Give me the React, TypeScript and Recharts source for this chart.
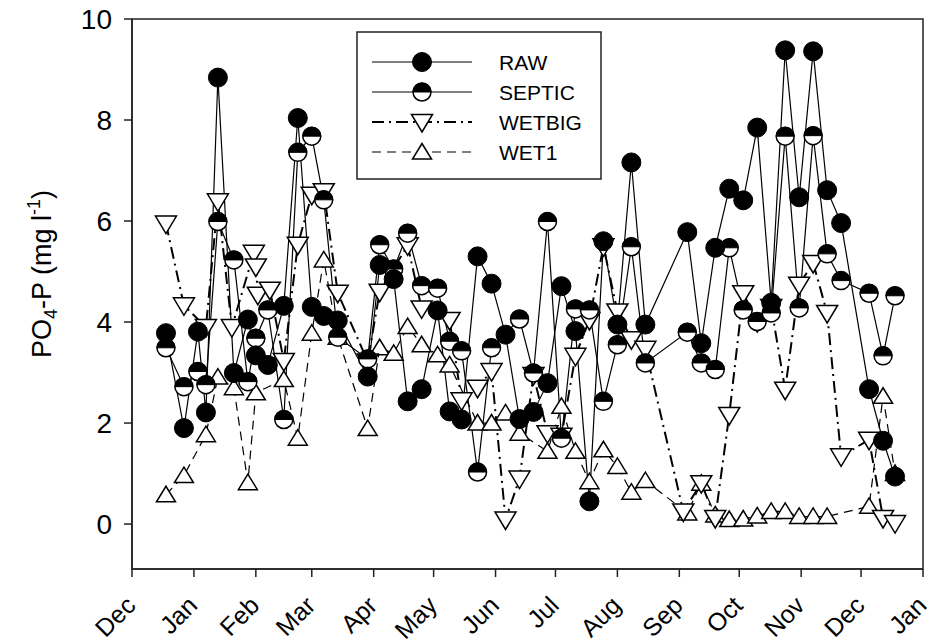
import { LineChart, Line, XAxis, YAxis, ReferenceArea } from 'recharts'

// sampling day = days since 1 December of the first year
const rawDays = [17, 26, 33, 37, 43, 51, 58, 62, 68, 76, 83, 90, 96, 103, 118, 124, 131, 138, 145, 153, 159, 165, 173, 180, 187, 194, 201, 208, 215, 222, 229, 236, 243, 250, 257, 278, 285, 292, 299, 306, 313, 320, 327, 334, 341, 348, 355, 369, 376, 382]
const rawValues = [3.78, 1.9, 3.81, 2.21, 8.84, 2.99, 4.05, 3.34, 3.15, 4.32, 8.04, 4.3, 4.12, 4.03, 2.92, 5.13, 4.85, 2.43, 2.67, 4.23, 2.23, 2.07, 5.3, 4.76, 3.75, 2.08, 2.22, 2.79, 4.71, 3.82, 0.45, 5.6, 3.95, 7.16, 3.95, 5.78, 3.58, 5.47, 6.64, 6.41, 7.85, 4.38, 9.38, 6.47, 9.36, 6.61, 5.96, 2.67, 1.65, 0.94]

const septicDays = [17, 26, 33, 37, 43, 51, 58, 62, 68, 76, 83, 90, 96, 103, 118, 124, 131, 138, 145, 153, 159, 165, 173, 180, 194, 201, 208, 215, 222, 229, 236, 243, 250, 257, 278, 285, 292, 299, 306, 313, 320, 327, 334, 341, 348, 355, 369, 376, 382]
const septicValues = [3.49, 2.72, 3.02, 2.76, 5.99, 5.23, 2.82, 3.68, 4.24, 2.07, 7.36, 7.68, 6.42, 3.7, 3.27, 5.53, 5.05, 5.76, 4.72, 4.67, 3.62, 3.43, 1.03, 3.49, 4.06, 2.99, 5.99, 1.7, 4.26, 4.24, 2.43, 3.55, 5.49, 3.19, 3.8, 3.19, 3.06, 5.47, 4.24, 4.01, 4.18, 7.68, 4.28, 7.69, 5.35, 4.82, 4.57, 3.33, 4.52]

const wetbigDays = [17, 26, 37, 43, 50, 61, 62, 63, 69, 76, 83, 90, 96, 103, 118, 124, 138, 145, 159, 165, 173, 180, 187, 194, 201, 208, 215, 222, 229, 236, 243, 250, 257, 276, 285, 292, 299, 306, 313, 320, 327, 334, 341, 348, 355, 369, 376, 382]
const wetbigValues = [5.95, 4.33, 3.9, 6.39, 3.9, 5.37, 5.1, 4.54, 4.64, 3.23, 5.53, 6.52, 6.59, 4.58, 3.22, 4.6, 5.52, 4.27, 4.04, 2.45, 2.7, 3.03, 0.09, 0.9, 2.95, 1.8, 1.75, 3.33, 4.04, 5.5, 4.21, 3.66, 3.47, 0.25, 0.81, 0.12, 2.16, 4.57, 4.0, 4.3, 2.66, 4.74, 5.17, 4.18, 1.34, 1.67, 0.12, 0.02]

const wet1Days = [17, 26, 37, 43, 51, 58, 62, 76, 83, 90, 96, 103, 118, 124, 131, 138, 145, 153, 159, 173, 180, 187, 194, 208, 215, 222, 229, 236, 243, 250, 257, 278, 285, 292, 299, 306, 313, 320, 327, 334, 341, 348, 369, 376, 382]
const wet1Values = [0.58, 0.96, 1.77, 2.91, 2.7, 0.82, 2.6, 2.86, 1.7, 3.78, 5.23, 3.7, 1.89, 3.49, 3.38, 3.91, 3.55, 3.35, 3.15, 2.0, 2.0, 2.2, 1.8, 1.44, 2.33, 1.44, 0.84, 1.47, 1.14, 0.63, 0.86, 0.22, 0.81, 0.18, 0.09, 0.1, 0.16, 0.25, 0.25, 0.15, 0.15, 0.15, 0.35, 2.53, 1.0]

const monthTicks = [0, 31, 62, 90, 121, 151, 182, 212, 243, 274, 304, 335, 365, 396]
const monthLabels = ['Dec', 'Jan', 'Feb', 'Mar', 'Apr', 'May', 'Jun', 'Jul', 'Aug', 'Sep', 'Oct', 'Nov', 'Dec', 'Jan']
const yTicks = [0, 2, 4, 6, 8, 10]
const seriesNames = ['RAW', 'SEPTIC', 'WETBIG', 'WET1']

const FONT = '"Liberation Sans", Arial, sans-serif'
const INK = '#000'
const AXIS = '#222'
const Y_MIN = -0.89
const X_MAX = 396

const toPoints = (days: number[], values: number[]) =>
  days.map((day, i) => ({ day, value: values[i] }))

const rawData = toPoints(rawDays, rawValues)
const septicData = toPoints(septicDays, septicValues)
const wetbigData = toPoints(wetbigDays, wetbigValues)
const wet1Data = toPoints(wet1Days, wet1Values)

function RawMark({ cx, cy }: { cx: number; cy: number }) {
  return <circle cx={cx} cy={cy} r={9.5} fill={INK} stroke={INK} strokeWidth={1} />
}

function SepticMark({ cx, cy }: { cx: number; cy: number }) {
  const r = 9
  return (
    <g>
      <circle cx={cx} cy={cy} r={r} fill="#fff" stroke={INK} strokeWidth={1.5} />
      <path d={`M ${cx - r} ${cy} A ${r} ${r} 0 0 1 ${cx + r} ${cy} Z`} fill={INK} stroke={INK} strokeWidth={1} />
    </g>
  )
}

function DownTriangle({ cx, cy }: { cx: number; cy: number }) {
  return (
    <polygon
      points={`${cx - 10.5},${cy - 7.5} ${cx + 10.5},${cy - 7.5} ${cx},${cy + 10}`}
      fill="#fff"
      stroke={INK}
      strokeWidth={1.5}
      strokeLinejoin="miter"
    />
  )
}

function UpTriangle({ cx, cy }: { cx: number; cy: number }) {
  return (
    <polygon
      points={`${cx - 9.5},${cy + 7} ${cx + 9.5},${cy + 7} ${cx},${cy - 8.5}`}
      fill="#fff"
      stroke={INK}
      strokeWidth={1.5}
    />
  )
}

const dotWith = (Mark: typeof RawMark) => (p: any) => <Mark key={`d-${p.index}`} cx={p.cx} cy={p.cy} />

// month names sit at 45 degrees, ending just right of their tick
function MonthTick({ x, y, index }: any) {
  const tx = x + 5
  const ty = y + 28
  return (
    <text
      x={tx}
      y={ty}
      transform={`rotate(-45 ${tx} ${ty})`}
      textAnchor="end"
      fontSize={25}
      fontFamily={FONT}
      fill={INK}
    >
      {monthLabels[index]}
    </text>
  )
}

const WETBIG_DASH = '12 5 2 5'
const WET1_DASH = '9 6'

function LegendBox() {
  const rows = [62, 92, 122, 152]
  const lineX1 = 16
  const lineX2 = 116
  const markX = 66
  return (
    <svg
      width={246}
      height={149}
      style={{ position: 'absolute', left: 356, top: 31 }}
    >
      <rect x={1} y={1} width={244} height={147} fill="#fff" stroke={AXIS} strokeWidth={1.5} />
      {seriesNames.map((name, i) => {
        const y = rows[i] - 31
        const dash = i === 2 ? WETBIG_DASH : i === 3 ? WET1_DASH : undefined
        const Mark = [RawMark, SepticMark, DownTriangle, UpTriangle][i]
        return (
          <g key={name}>
            <line
              x1={lineX1}
              x2={lineX2}
              y1={y}
              y2={y}
              stroke={INK}
              strokeWidth={i === 2 ? 2 : 1.2}
              strokeDasharray={dash}
            />
            <Mark cx={markX} cy={y} />
            <text x={143} y={y + 7.5} fontSize={21} fontFamily={FONT} fill={INK}>
              {name}
            </text>
          </g>
        )
      })}
    </svg>
  )
}

function AxisTitle() {
  const x = 51
  const y = 274
  return (
    <svg width={80} height={644} style={{ position: 'absolute', left: 0, top: 0 }}>
      <text
        x={x}
        y={y}
        transform={`rotate(-90 ${x} ${y})`}
        textAnchor="middle"
        fontSize={27}
        fontFamily={FONT}
        fill={INK}
      >
        PO
        <tspan fontSize={18} dy={6}>4</tspan>
        <tspan dy={-6}>-P (mg l</tspan>
        <tspan fontSize={18} dy={-11}>-1</tspan>
        <tspan dy={11}>)</tspan>
      </text>
    </svg>
  )
}

export default function App() {
  return (
    <div style={{ position: 'absolute', left: 0, top: 0, width: 932, height: 644, background: '#fff' }}>
      <LineChart width={932} height={644} margin={{ top: 19, right: 9, bottom: 0, left: 0 }}>
        <XAxis
          type="number"
          dataKey="day"
          domain={[0, X_MAX]}
          ticks={monthTicks}
          interval={0}
          allowDataOverflow
          height={75}
          tickSize={8}
          stroke={AXIS}
          strokeWidth={1.5}
          tick={<MonthTick />}
        />
        <YAxis
          type="number"
          dataKey="value"
          domain={[Y_MIN, 10]}
          ticks={yTicks}
          allowDataOverflow
          width={132}
          tickSize={8}
          tickMargin={12}
          stroke={AXIS}
          strokeWidth={1.5}
          tick={{ fontSize: 28, fontFamily: FONT, fill: INK }}
        />
        <ReferenceArea
          x1={0}
          x2={X_MAX}
          y1={Y_MIN}
          y2={10}
          fill="none"
          fillOpacity={0}
          stroke={AXIS}
          strokeWidth={1.5}
          ifOverflow="visible"
        />
        <Line
          data={wet1Data}
          dataKey="value"
          stroke={INK}
          strokeWidth={1.2}
          strokeDasharray={WET1_DASH}
          dot={dotWith(UpTriangle)}
          activeDot={false}
          isAnimationActive={false}
        />
        <Line
          data={wetbigData}
          dataKey="value"
          stroke={INK}
          strokeWidth={2}
          strokeDasharray={WETBIG_DASH}
          dot={dotWith(DownTriangle)}
          activeDot={false}
          isAnimationActive={false}
        />
        <Line
          data={septicData}
          dataKey="value"
          stroke={INK}
          strokeWidth={1.2}
          dot={dotWith(SepticMark)}
          activeDot={false}
          isAnimationActive={false}
        />
        <Line
          data={rawData}
          dataKey="value"
          stroke={INK}
          strokeWidth={1.2}
          dot={dotWith(RawMark)}
          activeDot={false}
          isAnimationActive={false}
        />
      </LineChart>
      <AxisTitle />
      <LegendBox />
    </div>
  )
}
